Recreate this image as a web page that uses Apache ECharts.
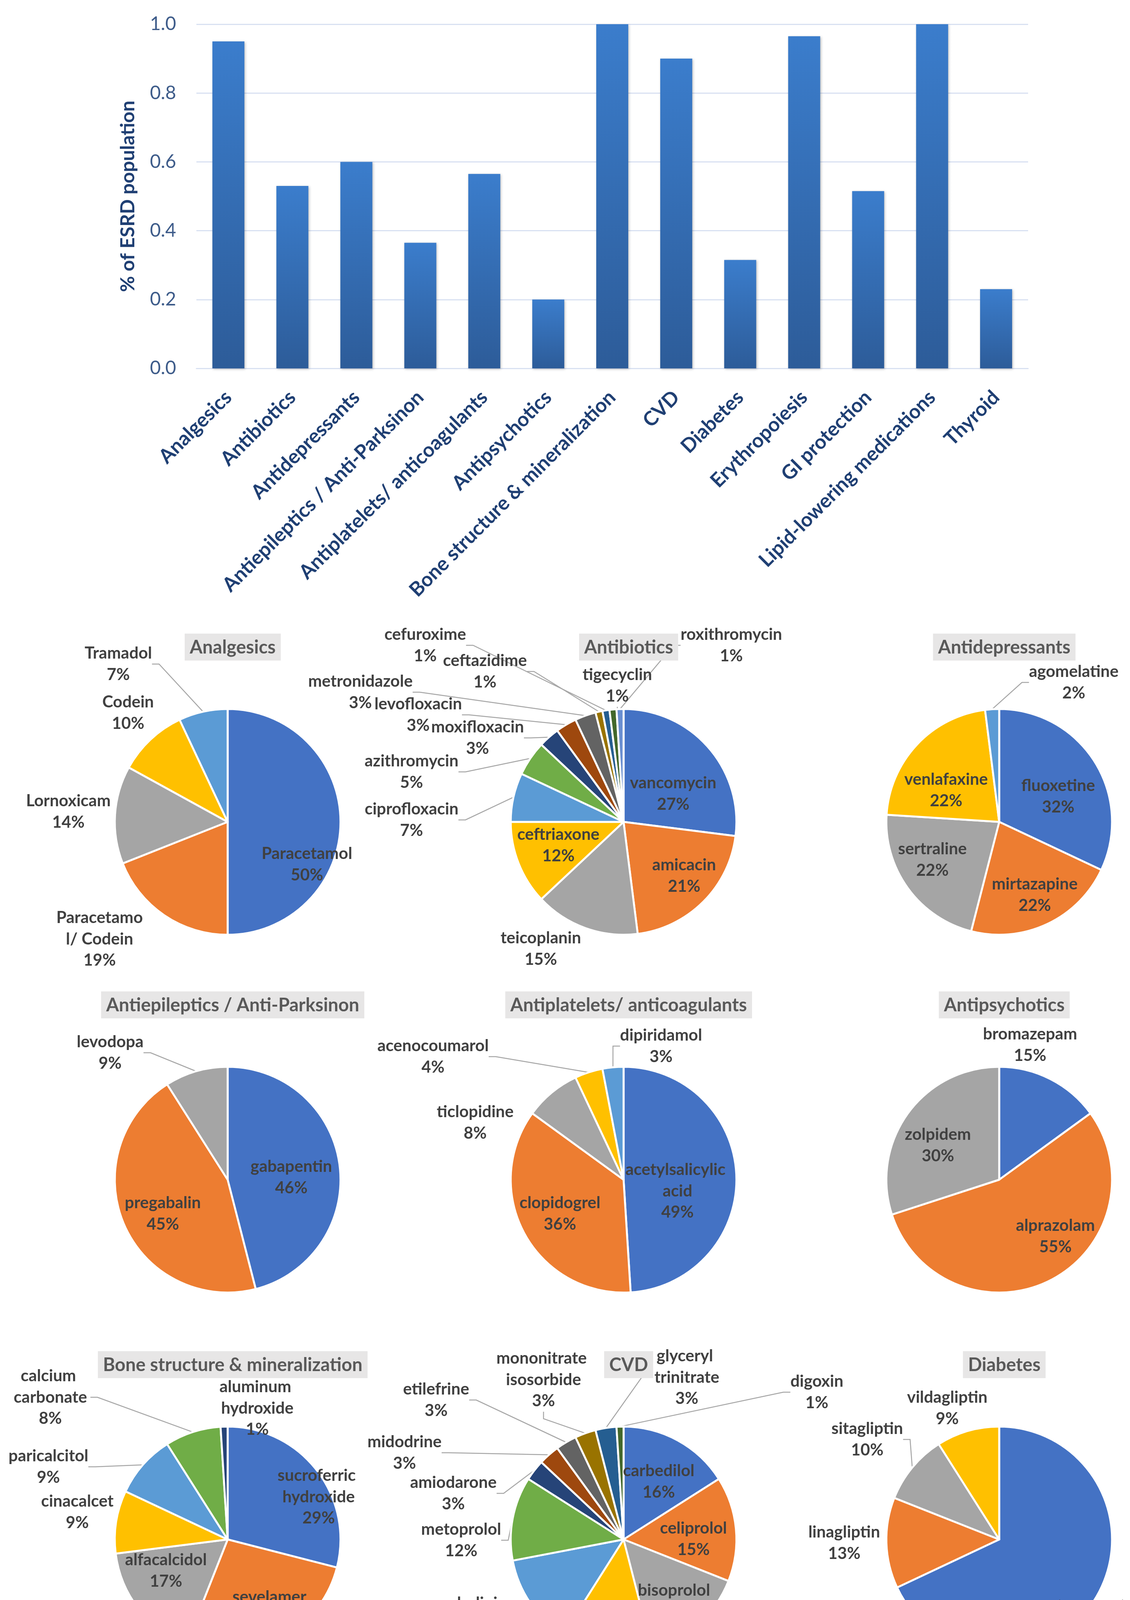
<!DOCTYPE html>
<html>
<head>
<meta charset="utf-8">
<script src="https://cdn.jsdelivr.net/npm/echarts@6/dist/echarts.min.js"></script>
<style>
  html, body { margin: 0; padding: 0; background: #ffffff; }
  #chart { width: 2894px; height: 5206px; }
</style>
</head>
<body>
<div id="chart"></div>
<script>
// bar chart: share of the ESRD population per drug class
const categories = [
  "Analgesics", "Antibiotics", "Antidepressants", "Antiepileptics / Anti-Parksinon",
  "Antiplatelets/ anticoagulants", "Antipsychotics", "Bone structure & mineralization",
  "CVD", "Diabetes", "Erythropoiesis", "GI protection", "Lipid-lowering medications", "Thyroid"
];
const esrdShare = [0.95, 0.53, 0.60, 0.365, 0.565, 0.20, 1.0, 0.90, 0.315, 0.965, 0.515, 1.0, 0.23];
const yTicks = [0, 0.2, 0.4, 0.6, 0.8, 1.0];

// pie charts: drug split inside each class (%)
const analgesicsNames = ["Paracetamol", "Paracetamol/ Codein", "Lornoxicam", "Codein", "Tramadol"];
const analgesicsValues = [50, 19, 14, 10, 7];

const antibioticsNames = ["vancomycin", "amicacin", "teicoplanin", "ceftriaxone", "ciprofloxacin",
  "azithromycin", "moxifloxacin", "levofloxacin", "metronidazole", "ceftazidime", "cefuroxime",
  "tigecyclin", "roxithromycin"];
const antibioticsValues = [27, 21, 15, 12, 7, 5, 3, 3, 3, 1, 1, 1, 1];

const antidepressantsNames = ["fluoxetine", "mirtazapine", "sertraline", "venlafaxine", "agomelatine"];
const antidepressantsValues = [32, 22, 22, 22, 2];

const antiepilepticsNames = ["gabapentin", "pregabalin", "levodopa"];
const antiepilepticsValues = [46, 45, 9];

const antiplateletsNames = ["acetylsalicylic acid", "clopidogrel", "ticlopidine", "acenocoumarol", "dipiridamol"];
const antiplateletsValues = [49, 36, 8, 4, 3];

const antipsychoticsNames = ["bromazepam", "alprazolam", "zolpidem"];
const antipsychoticsValues = [15, 55, 30];

const boneNames = ["sucroferric hydroxide", "sevelamer", "alfacalcidol", "cinacalcet", "paricalcitol",
  "calcium carbonate", "aluminum hydroxide"];
const boneValues = [29, 27, 17, 9, 9, 8, 1];

const cvdNames = ["carbedilol", "celiprolol", "bisoprolol", "atenolol", "amlodipine", "metoprolol",
  "amiodarone", "midodrine", "etilefrine", "mononitrate isosorbide", "glyceryl trinitrate", "digoxin"];
const cvdValues = [16, 15, 15, 13, 13, 12, 3, 3, 3, 3, 3, 1];

const diabetesNames = ["Insulin (all types)", "linagliptin", "sitagliptin", "vildagliptin"];
const diabetesValues = [68, 13, 10, 9];

const erythropoiesisNames = ["epoetin alpha", "darbepoetin alfa", "epoetin zeta"];
const erythropoiesisValues = [56, 20, 24];

const giNames = ["rabeprazole", "omeprazole", "lasoprazole", "ranitidine"];
const giValues = [5, 60, 12, 23];

const lipidNames = ["atorvastatin", "rosuvastatin", "simvastatin"];
const lipidValues = [84, 8, 8];

// office colour cycle
const palette = ["#4472C4", "#ED7D31", "#A5A5A5", "#FFC000", "#5B9BD5", "#70AD47",
  "#264478", "#9E480E", "#636363", "#997300", "#255E91", "#43682B", "#698ED0"];

const FONT = "Lato, 'Open Sans', sans-serif";
const colX = [583, 1597, 2559];
const rowY = [2104, 3020, 3941, 4860];
const R = 289;

// label placement, offset of each label from its pie centre (same order as the names)
const spots = [
  [[203, 109], [-328, 300], [-408, -26], [-255, -279], [-280, -404]],
  [[127, -72], [155, 138], [-212, 325], [-167, 60], [-543, -5], [-543, -128], [-374, -215],
   [-526, -274], [-674, -332], [-355, -385], [-508, -452], [-16, -349], [276, -452]],
  [[151, -65], [91, 187], [-171, 97], [-136, -81], [191, -357]],
  [[163, -6], [-166, 87], [-301, -325]],
  [[138, 29], [-163, 87], [-380, -146], [-488, -315], [96, -342]],
  [[79, -345], [144, 145], [-157, -88]],
  [[233, -109], [107, 175], [-158, 80], [-385, -70], [-459, -186], [-454, -364], [76, -336]],
  [[90, -148], [179, -1], [129, 158], [-183, 328], [-380, 191], [-416, 2], [-436, -118],
   [-561, -222], [-480, -357], [-205, -409], [162, -415], [495, -377]],
  [[169, 201], [-397, 9], [-338, -256], [-133, -336]],
  [[87, 83], [-356, 263], [-123, -149]],
  [[267, -374], [157, 97], [-183, 47], [-139, -124]],
  [[151, 133], [-416, -184], [-288, -337]]
];

// which slices carry their label inside, which outside labels have no leader, which wrap
const pies = [
  { title: "Analgesics", names: analgesicsNames, values: analgesicsValues,
    inside: ["Paracetamol"], bare: ["Paracetamol/ Codein", "Lornoxicam", "Codein"],
    wrap: { "Paracetamol/ Codein": [229, "breakAll"] } },
  { title: "Antibiotics", names: antibioticsNames, values: antibioticsValues,
    inside: ["vancomycin", "amicacin", "ceftriaxone"], bare: ["teicoplanin"] },
  { title: "Antidepressants", names: antidepressantsNames, values: antidepressantsValues,
    inside: ["fluoxetine", "mirtazapine", "sertraline", "venlafaxine"], bare: [] },
  { title: "Antiepileptics / Anti-Parksinon", names: antiepilepticsNames, values: antiepilepticsValues,
    inside: ["gabapentin", "pregabalin"], bare: [] },
  { title: "Antiplatelets/ anticoagulants", names: antiplateletsNames, values: antiplateletsValues,
    inside: ["acetylsalicylic acid", "clopidogrel"], bare: ["ticlopidine"],
    wrap: { "acetylsalicylic acid": [300, "break"] } },
  { title: "Antipsychotics", names: antipsychoticsNames, values: antipsychoticsValues,
    inside: ["alprazolam", "zolpidem"], bare: ["bromazepam"] },
  { title: "Bone structure & mineralization", names: boneNames, values: boneValues,
    inside: ["sucroferric hydroxide", "sevelamer", "alfacalcidol"], bare: ["cinacalcet", "aluminum hydroxide"],
    wrap: { "sucroferric hydroxide": [235, "break"], "calcium carbonate": [205, "break"], "aluminum hydroxide": [205, "break"] } },
  { title: "CVD", names: cvdNames, values: cvdValues,
    inside: ["carbedilol", "celiprolol", "bisoprolol"], bare: ["amlodipine"],
    wrap: { "mononitrate isosorbide": [245, "break"], "glyceryl trinitrate": [195, "break"] } },
  { title: "Diabetes", names: diabetesNames, values: diabetesValues,
    inside: ["Insulin (all types)"], bare: ["vildagliptin", "linagliptin"] },
  { title: "Erythropoiesis", names: erythropoiesisNames, values: erythropoiesisValues,
    inside: ["epoetin alpha", "epoetin zeta"], bare: [],
    wrap: { "epoetin alpha": [155, "break"], "epoetin zeta": [155, "break"] } },
  { title: "GI protection", names: giNames, values: giValues,
    inside: ["omeprazole", "lasoprazole", "ranitidine"], bare: [], light: true },
  { title: "Lipid-lowering medications", names: lipidNames, values: lipidValues,
    inside: ["atorvastatin"], bare: [] }
];

const labelText = function (p) { return p.name + "\n" + p.value + "%"; };

const titles = [];
const series = [{
  type: "bar",
  data: esrdShare,
  barWidth: 82,
  itemStyle: {
    color: new echarts.graphic.LinearGradient(0, 0, 0, 1, [
      { offset: 0, color: "#3B7DCC" },
      { offset: 1, color: "#2D5C99" }
    ]),
    shadowColor: "rgba(0,0,0,0.25)",
    shadowBlur: 6,
    shadowOffsetX: 2,
    shadowOffsetY: 2
  },
  emphasis: { disabled: true }
}];

pies.forEach(function (pie, k) {
  const cx = colX[k % 3];
  const cy = rowY[Math.floor(k / 3)];
  const wrap = pie.wrap || {};
  const size = pie.light ? 37 : 42;
  const weight = pie.light ? "normal" : "bold";

  titles.push({
    text: pie.title,
    left: cx,
    top: cy - 482,
    textAlign: "center",
    backgroundColor: "#E7E6E6",
    padding: [12, 13, 10, 13],
    textStyle: { fontFamily: FONT, fontSize: 47, fontWeight: "bold", color: "#595959" }
  });

  const data = pie.names.map(function (n, i) {
    const isIn = pie.inside.indexOf(n) >= 0;
    const item = {
      name: n,
      value: pie.values[i],
      itemStyle: { color: palette[i] },
      label: { position: isIn ? "inside" : "outside" },
      labelLine: { show: !isIn && pie.bare.indexOf(n) < 0 }
    };
    if (wrap[n]) { item.label.width = wrap[n][0]; item.label.overflow = wrap[n][1]; }
    return item;
  });

  series.push({
    type: "pie",
    center: [cx, cy],
    radius: R,
    startAngle: 90,
    clockwise: true,
    data: data,
    avoidLabelOverlap: false,
    itemStyle: { borderColor: "#ffffff", borderWidth: 5 },
    label: {
      formatter: labelText,
      fontFamily: FONT,
      fontSize: size,
      fontWeight: weight,
      color: pie.light ? "#333333" : "#404040",
      lineHeight: size * 1.3,
      overflow: "none"
    },
    labelLine: { length: 20, length2: 18, lineStyle: { color: "#A6A6A6", width: 2.5 } },
    labelLayout: function (params) {
      const off = spots[k][params.dataIndex];
      return { x: cx + off[0], y: cy + off[1], align: "center", verticalAlign: "middle" };
    },
    emphasis: { disabled: true }
  });
});

const option = {
  backgroundColor: "#ffffff",
  animation: false,
  title: titles,
  grid: { left: 503, right: 261, top: 62, height: 881, containLabel: false },
  xAxis: {
    type: "category",
    data: categories,
    axisLine: { show: true, lineStyle: { color: "#D9E1F2", width: 3 } },
    axisTick: { show: false },
    axisLabel: {
      interval: 0,
      rotate: 45,
      margin: 66,
      fontFamily: FONT,
      fontSize: 51,
      fontWeight: "bold",
      color: "#1F3F73"
    }
  },
  yAxis: {
    type: "value",
    min: 0,
    max: 1,
    interval: 0.2,
    name: "% of ESRD population",
    nameLocation: "middle",
    nameGap: 150,
    nameTextStyle: { fontFamily: FONT, fontSize: 50, fontWeight: "bold", color: "#1F3F73" },
    axisLine: { show: false },
    axisTick: { show: false },
    splitLine: { lineStyle: { color: "#D9E1F2", width: 3 } },
    axisLabel: {
      margin: 52,
      fontFamily: FONT,
      fontSize: 48,
      color: "#3E5C8A",
      formatter: function (v) { return yTicks.indexOf(v) >= 0 ? v.toFixed(1) : ""; }
    }
  },
  series: series
};

document.addEventListener("DOMContentLoaded", function () {
  const chart = echarts.init(document.getElementById("chart"), null, { renderer: "canvas" });
  chart.setOption(option);
});
</script>
</body>
</html>
